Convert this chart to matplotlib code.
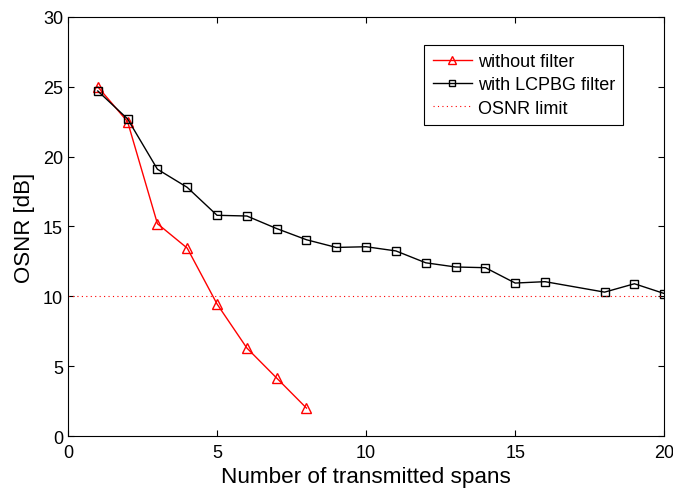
import matplotlib.pyplot as plt
import numpy as np

plt.rcParams['font.family'] = ['Liberation Sans', 'DejaVu Sans']

# Data
spans_nf = [1, 2, 3, 4, 5, 6, 7, 8]
osnr_nf = [25.0, 22.5, 15.2, 13.45, 9.45, 6.3, 4.15, 2.0]

spans_f = [1, 2, 3, 4, 5, 6, 7, 8, 9, 10, 11, 12, 13, 14, 15, 16, 18, 19, 20]
osnr_f = [24.7, 22.7, 19.1, 17.8, 15.8, 15.75, 14.85, 14.05, 13.5, 13.55, 13.25,
          12.4, 12.1, 12.05, 10.95, 11.05, 10.3, 10.9, 10.2]

osnr_limit = 10

fig = plt.figure(figsize=(6.73, 4.89), dpi=100)
ax = fig.add_axes([0.101, 0.1063, 0.886, 0.857])

ax.plot(spans_nf, osnr_nf, color='red', marker='^', markersize=7.5,
        markerfacecolor='none', markeredgewidth=1.0, linewidth=1.0, label='without filter')
ax.plot(spans_f, osnr_f, color='black', marker='s', markersize=5.5,
        markerfacecolor='none', markeredgewidth=1.0, linewidth=1.0, label='with LCPBG filter')
ax.axhline(osnr_limit, color='red', linestyle=(0, (1, 3)), linewidth=0.8, label='OSNR limit')

ax.set_xlim(0, 20)
ax.set_ylim(0, 30)
ax.set_xticks(np.arange(0, 21, 5))
ax.set_yticks(np.arange(0, 31, 5))
ax.tick_params(direction='in', top=True, right=True, labelsize=13, length=4)
ax.tick_params(axis='x', pad=6)
ax.set_xlabel('Number of transmitted spans', fontsize=16.2, labelpad=3)
ax.set_ylabel('OSNR [dB]', fontsize=16, labelpad=6)

leg = ax.legend(loc='upper right', bbox_to_anchor=(0.931, 0.933), fontsize=13,
                fancybox=False, edgecolor='black', framealpha=1,
                handlelength=2.2, handletextpad=0.3, borderpad=0.45,
                labelspacing=0.35, borderaxespad=0, markerscale=0.75)
leg.get_frame().set_linewidth(0.8)

fig.savefig('out.png', dpi=100)
